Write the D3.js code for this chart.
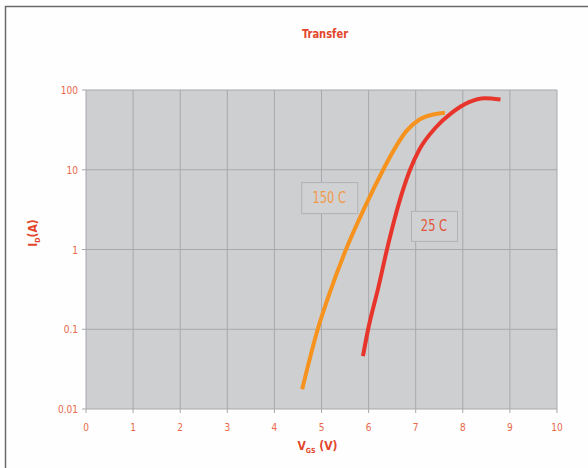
<!DOCTYPE html>
<html>
<head>
<meta charset="utf-8">
<script src="https://cdn.jsdelivr.net/npm/d3@7"></script>
<style>
	body { margin:0; background:#fefefe; }
	text { font-family:"DejaVu Sans Condensed","DejaVu Sans",sans-serif; font-stretch:condensed; }
</style>
</head>
<body>
<div id="canvas-1" style="width:588px;height:468px;"></div>
<script>
/* Transfer curve, I_D vs V_GS, log scale */

var xTicks = [0,1,2,3,4,5,6,7,8,9,10];
var yTicks = [0.01,0.1,1,10,100];
var yTickLabels = ['0.01','0.1','1','10','100'];

var vgs150 = [4.59, 4.92, 5.15, 5.52, 5.93, 6.31, 6.52, 6.80, 7.08, 7.35, 7.62];
var id150  = [0.0177, 0.1, 0.26, 1.0, 3.5, 10, 17, 30.5, 42.7, 49, 52];

var vgs25 = [5.88, 5.99, 6.21, 6.39, 6.70, 6.88, 7.08, 7.42, 7.77, 8.12, 8.47, 8.80];
var id25  = [0.046, 0.1, 0.34, 1.0, 4.9, 10, 18, 33.6, 52, 70, 79, 76];

var seriesNames = ['150 C','25 C'];

var canvasWidth = 588,
    canvasHeight = 468;

var margin = {t:90,r:31,b:59,l:86};
var plotWidth = canvasWidth - margin.l - margin.r,
    plotHeight = canvasHeight - margin.t - margin.b;

var orange = '#f6921e',
    red = '#e8352b',
    tickColor = '#e8674a';

var svg = d3.select('#canvas-1')
	.append('svg')
	.attr('width', canvasWidth)
	.attr('height', canvasHeight);

// outer frame (top and left edge only are visible)
svg.append('path')
	.attr('d','M5.5,' + canvasHeight + 'V6.5H' + canvasWidth)
	.style('fill','none')
	.style('stroke','#6a6a6a')
	.style('stroke-width','1.5px');

svg.append('text')
	.attr('transform','translate(325,38) scale(0.85,1)')
	.attr('text-anchor','middle')
	.style('font-size','13px')
	.style('font-weight','bold')
	.style('fill','#e2462b')
	.text('Transfer');

var x = d3.scaleLinear().domain([0,10]).range([0, plotWidth]);
var y = d3.scaleLog().domain([0.01,100]).range([plotHeight, 0]);

var plot = svg.append('g')
	.attr('transform','translate('+margin.l+','+margin.t+')');

plot.append('rect')
	.attr('width', plotWidth)
	.attr('height', plotHeight)
	.style('fill','#cecfd1');

// grid
plot.selectAll('.vgrid')
	.data(xTicks)
	.enter()
	.append('line')
	.attr('class','vgrid')
	.attr('x1', function(d){ return x(d); })
	.attr('x2', function(d){ return x(d); })
	.attr('y1', 0)
	.attr('y2', plotHeight + 4)
	.style('stroke','#a6a8ab')
	.style('stroke-width','1px');

plot.selectAll('.hgrid')
	.data(yTicks)
	.enter()
	.append('line')
	.attr('class','hgrid')
	.attr('x1', -4)
	.attr('x2', plotWidth)
	.attr('y1', function(d){ return y(d); })
	.attr('y2', function(d){ return y(d); })
	.style('stroke','#a6a8ab')
	.style('stroke-width','1px');

// tick labels
plot.selectAll('.xlab')
	.data(xTicks)
	.enter()
	.append('text')
	.attr('class','xlab')
	.attr('x', function(d){ return x(d); })
	.attr('y', plotHeight + 22)
	.attr('text-anchor','middle')
	.style('font-size','10px')
	.style('fill', tickColor)
	.text(function(d){ return d; });

plot.selectAll('.ylab')
	.data(yTicks)
	.enter()
	.append('text')
	.attr('class','ylab')
	.attr('x', -8)
	.attr('y', function(d){ return y(d) + 4; })
	.attr('text-anchor','end')
	.style('font-size','10px')
	.style('fill', tickColor)
	.text(function(d,i){ return yTickLabels[i]; });

// axis titles
var xTitle = plot.append('text')
	.attr('x', plotWidth/2 - 4)
	.attr('y', plotHeight + 41)
	.attr('text-anchor','middle')
	.style('font-size','12px')
	.style('font-weight','bold')
	.style('fill','#e2462b');
xTitle.append('tspan').text('V');
xTitle.append('tspan').attr('dy',3).style('font-size','7px').text('GS');
xTitle.append('tspan').attr('dy',-3).text(' (V)');

var yTitle = svg.append('text')
	.attr('transform','translate(37,233) rotate(-90)')
	.attr('text-anchor','middle')
	.style('font-size','12px')
	.style('font-weight','bold')
	.style('fill','#e2462b');
yTitle.append('tspan').text('I');
yTitle.append('tspan').attr('dy',3).style('font-size','7px').text('D');
yTitle.append('tspan').attr('dy',-3).text('(A)');

// curves
var line = d3.line()
	.x(function(d){ return x(d[0]); })
	.y(function(d){ return y(d[1]); })
	.curve(d3.curveMonotoneX);

var series = [
	{pts: d3.zip(vgs150, id150), color: orange},
	{pts: d3.zip(vgs25, id25), color: red}
];

series.forEach(function(s){
	plot.append('path')
		.attr('d', line(s.pts))
		.style('fill','none')
		.style('stroke', s.color)
		.style('stroke-width','4px')
		.style('stroke-linecap','butt');
});

// series labels in boxes
var boxes = [
	{name: seriesNames[0], v: 4.57, i: 7.0, w: 56, h: 31, color: '#f29a4a'},
	{name: seriesNames[1], v: 6.90, i: 3.05, w: 46, h: 30, color: '#e2553b'}
];

boxes.forEach(function(b){
	var g = plot.append('g')
		.attr('transform','translate('+x(b.v)+','+y(b.i)+')');

	g.append('rect')
		.attr('x', 0.5)
		.attr('y', 0.5)
		.attr('width', b.w)
		.attr('height', b.h)
		.style('fill','#d0d1d3')
		.style('stroke','#b0b2b5')
		.style('stroke-width','1px');

	g.append('text')
		.attr('transform','translate('+(b.w/2)+','+(b.h/2 + 5.5)+') scale(0.8,1)')
		.attr('text-anchor','middle')
		.style('font-size','16px')
		.style('fill', b.color)
		.text(b.name);
});
</script>
</body>
</html>
